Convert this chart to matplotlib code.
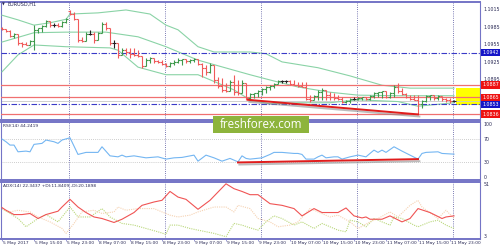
import numpy as np
import matplotlib.pyplot as plt
from matplotlib.collections import LineCollection
from matplotlib.patches import Rectangle
from matplotlib.transforms import blended_transform_factory as blend
import matplotlib.patheffects as pe

plt.rcParams['font.family'] = ['DejaVu Sans']

# EURUSD H1 bars, 5 May 07:00 -> 12 May 00:00
highs = [1.0986, 1.0982, 1.0981, 1.0976, 1.0967, 1.0960, 1.0960, 1.0964, 1.0989, 1.0984,
         1.0989, 1.0998, 1.0994, 1.0993, 1.0993, 1.0996, 1.1001, 1.1015, 1.1012, 1.0998,
         1.0969, 1.0977, 1.0981, 1.0977, 1.0977, 1.0994, 1.0994, 1.0984, 1.0964, 1.0958,
         1.0950, 1.0950, 1.0950, 1.0950, 1.0946, 1.0936, 1.0933, 1.0934, 1.0933, 1.0929,
         1.0929, 1.0924, 1.0926, 1.0929, 1.0933, 1.0931, 1.0931, 1.0931, 1.0933, 1.0931,
         1.0924, 1.0921, 1.0924, 1.0921, 1.0900, 1.0898, 1.0890, 1.0895, 1.0904, 1.0895,
         1.0895, 1.0890, 1.0873, 1.0873, 1.0878, 1.0881, 1.0885, 1.0886, 1.0890, 1.0895,
         1.0895, 1.0895, 1.0895, 1.0895, 1.0892, 1.0892, 1.0892, 1.0869, 1.0869, 1.0878,
         1.0881, 1.0878, 1.0874, 1.0873, 1.0869, 1.0866, 1.0861, 1.0864, 1.0866, 1.0866,
         1.0866, 1.0866, 1.0869, 1.0874, 1.0874, 1.0876, 1.0873, 1.0874, 1.0886, 1.0890,
         1.0881, 1.0873, 1.0869, 1.0869, 1.0869, 1.0861, 1.0869, 1.0869, 1.0869, 1.0869,
         1.0868, 1.0864, 1.0864, 1.0861]
lows = [1.0981, 1.0977, 1.0969, 1.0967, 1.0955, 1.0952, 1.0955, 1.0955, 1.0946, 1.0976,
        1.0977, 1.0986, 1.0986, 1.0986, 1.0986, 1.0986, 1.0993, 1.1006, 1.0998, 1.0960,
        1.0960, 1.0962, 1.0972, 1.0958, 1.0964, 1.0976, 1.0981, 1.0955, 1.0950, 1.0933,
        1.0938, 1.0938, 1.0933, 1.0936, 1.0934, 1.0916, 1.0919, 1.0924, 1.0924, 1.0924,
        1.0921, 1.0917, 1.0917, 1.0921, 1.0924, 1.0921, 1.0924, 1.0924, 1.0926, 1.0921,
        1.0900, 1.0904, 1.0907, 1.0890, 1.0881, 1.0874, 1.0874, 1.0876, 1.0869, 1.0869,
        1.0873, 1.0861, 1.0861, 1.0864, 1.0866, 1.0869, 1.0873, 1.0878, 1.0881, 1.0888,
        1.0890, 1.0890, 1.0886, 1.0886, 1.0883, 1.0883, 1.0861, 1.0857, 1.0861, 1.0861,
        1.0861, 1.0861, 1.0861, 1.0861, 1.0861, 1.0856, 1.0856, 1.0856, 1.0861, 1.0861,
        1.0861, 1.0861, 1.0861, 1.0864, 1.0866, 1.0864, 1.0864, 1.0864, 1.0866, 1.0873,
        1.0869, 1.0864, 1.0861, 1.0861, 1.0836, 1.0847, 1.0857, 1.0861, 1.0861, 1.0861,
        1.0859, 1.0857, 1.0856, 1.0857]
closes = [1.0982, 1.0979, 1.0970, 1.0974, 1.0958, 1.0957, 1.0955, 1.0962, 1.0981, 1.0984,
          1.0988, 1.0996, 1.0989, 1.0989, 1.0988, 1.0994, 1.0999, 1.1008, 1.0999, 1.0964,
          1.0962, 1.0974, 1.0974, 1.0964, 1.0976, 1.0991, 1.0984, 1.0958, 1.0958, 1.0938,
          1.0946, 1.0943, 1.0940, 1.0938, 1.0936, 1.0919, 1.0929, 1.0933, 1.0928, 1.0926,
          1.0922, 1.0919, 1.0924, 1.0926, 1.0929, 1.0931, 1.0928, 1.0929, 1.0931, 1.0922,
          1.0916, 1.0909, 1.0921, 1.0895, 1.0885, 1.0878, 1.0876, 1.0892, 1.0874, 1.0873,
          1.0890, 1.0864, 1.0871, 1.0873, 1.0876, 1.0880, 1.0883, 1.0885, 1.0888, 1.0893,
          1.0893, 1.0893, 1.0888, 1.0886, 1.0885, 1.0883, 1.0862, 1.0861, 1.0868, 1.0874,
          1.0878, 1.0869, 1.0866, 1.0864, 1.0862, 1.0857, 1.0859, 1.0862, 1.0862, 1.0864,
          1.0866, 1.0862, 1.0868, 1.0873, 1.0874, 1.0876, 1.0866, 1.0873, 1.0883, 1.0876,
          1.0871, 1.0866, 1.0862, 1.0861, 1.0854, 1.0859, 1.0868, 1.0869, 1.0864, 1.0868,
          1.0862, 1.0861, 1.0859, 1.0859]
first_open = 1.0984
gap_bar = 17          # Monday open gap
gap_open = 1.1013

# Bollinger bands (bar index, price)
bb_up_idx = [0, 4, 8, 12, 16, 17, 24, 31, 37, 41, 44, 49, 53, 62, 66, 70, 79, 87, 95, 102, 113]
bb_up = [1.1006, 1.0998, 1.0989, 1.0993, 1.0999, 1.1008, 1.1010, 1.1015, 1.1008, 1.0989,
         1.0981, 1.0952, 1.0943, 1.0943, 1.0940, 1.0926, 1.0916, 1.0902, 1.0886, 1.0881, 1.0881]
bb_mid_idx = [0, 8, 16, 26, 34, 41, 49, 62, 67, 74, 82, 89, 99, 113]
bb_mid = [1.0960, 1.0976, 1.0977, 1.0977, 1.0969, 1.0952, 1.0929, 1.0904, 1.0895, 1.0883,
          1.0874, 1.0869, 1.0868, 1.0868]
bb_low_idx = [0, 4, 8, 16, 27, 29, 34, 41, 49, 58, 62, 67, 74, 82, 89, 99, 104, 110, 113]
bb_low = [1.0909, 1.0938, 1.0955, 1.0952, 1.0950, 1.0946, 1.0917, 1.0904, 1.0904, 1.0878,
          1.0861, 1.0854, 1.0856, 1.0856, 1.0861, 1.0858, 1.0850, 1.0854, 1.0856]

# RSI(14)
rsi_idx = [0, 1, 2, 3, 4, 6, 7, 8, 10, 11, 13, 14, 15, 17, 19, 21, 24, 25, 27, 29, 30, 31, 33,
           36, 39, 41, 43, 45, 48, 49, 51, 53, 55, 57, 59, 60, 61, 62, 65, 67, 68, 70, 73, 74,
           75, 76, 78, 79, 80, 81, 83, 84, 85, 87, 89, 91, 92, 93, 94, 95, 96, 98, 100, 104,
           105, 106, 109, 110, 113]
rsi_val = [70.0, 65.4, 59.7, 59.7, 48.2, 49.4, 48.2, 60.9, 62.6, 68.3, 65.4, 62.6, 68.3, 72.2,
           43.7, 47.2, 47.2, 56.8, 41.3, 39.6, 42.5, 39.6, 41.3, 37.9, 39.6, 35.7, 37.9, 38.6,
           42.5, 32.2, 42.5, 37.9, 32.2, 36.9, 31.0, 41.3, 36.9, 35.7, 37.9, 43.7, 47.2, 47.2,
           45.4, 45.4, 43.7, 35.7, 35.7, 39.6, 42.5, 37.9, 39.6, 39.6, 35.7, 39.6, 42.5, 39.6,
           45.4, 51.1, 47.2, 51.1, 47.2, 56.8, 49.4, 35.7, 45.4, 47.2, 48.2, 45.4, 44.2]

# ADX(14) main, +DI, -DI
adx_idx = [0, 1, 3, 5, 7, 9, 11, 14, 15, 17, 19, 21, 23, 25, 28, 30, 33, 35, 38, 40, 42, 44,
           46, 49, 52, 56, 58, 60, 62, 64, 67, 70, 73, 75, 78, 80, 84, 86, 88, 90, 91, 92, 95,
           97, 100, 102, 104, 107, 110, 111, 113]
adx_val = [29.2, 27.0, 23.4, 23.4, 24.3, 20.1, 23.4, 26.2, 29.7, 36.1, 29.7, 25.1, 21.4, 20.1,
           16.8, 19.5, 25.1, 31.1, 33.9, 35.3, 42.7, 38.0, 36.1, 27.8, 35.3, 49.1, 45.0, 42.7,
           40.0, 40.0, 32.5, 31.1, 28.4, 22.3, 28.4, 25.1, 25.1, 28.9, 22.3, 20.6, 21.4, 19.5,
           19.5, 22.3, 17.3, 20.1, 28.4, 25.1, 20.1, 21.4, 22.3]
pdi_idx = [0, 2, 4, 6, 9, 11, 14, 15, 17, 19, 22, 25, 27, 30, 33, 36, 39, 41, 42, 44, 47, 49,
           53, 56, 58, 60, 62, 64, 66, 68, 70, 73, 75, 78, 80, 82, 84, 86, 87, 89, 91, 93, 95,
           97, 98, 100, 103, 104, 107, 109, 111, 113]
pdi_val = [28.4, 24.3, 20.1, 13.2, 20.1, 23.4, 17.3, 21.4, 29.7, 21.4, 21.4, 28.4, 21.4, 16.0,
           14.6, 11.8, 9.0, 6.9, 14.6, 14.6, 11.8, 10.4, 7.7, 4.9, 16.0, 14.6, 12.3, 10.4, 17.3,
           22.3, 20.1, 14.6, 17.3, 11.8, 16.0, 13.2, 10.4, 9.0, 18.7, 17.3, 13.2, 20.1, 17.3,
           14.6, 21.4, 20.1, 14.6, 13.2, 17.3, 18.7, 14.6, 11.8]
mdi_idx = [0, 2, 4, 7, 9, 12, 15, 16, 18, 20, 23, 25, 28, 29, 31, 34, 38, 40, 42, 44, 47, 49,
           53, 56, 58, 59, 62, 64, 67, 69, 72, 74, 77, 79, 82, 84, 87, 89, 92, 94, 97, 99, 102,
           104, 105, 109, 111, 113]
mdi_val = [28.4, 25.6, 27.0, 25.6, 21.4, 17.3, 11.8, 7.7, 16.0, 25.6, 27.0, 24.3, 25.6, 29.7,
           27.0, 28.4, 28.4, 25.6, 22.9, 21.4, 22.9, 25.6, 29.7, 29.7, 25.6, 31.1, 28.4, 20.1,
           17.3, 13.2, 14.6, 17.3, 28.4, 25.6, 21.4, 22.9, 17.3, 11.8, 17.3, 20.1, 25.6, 21.4,
           31.1, 35.3, 29.7, 20.1, 27.0, 20.2]

red_levels = [1.0887, 1.0865, 1.0836]
blue_levels = [1.0942, 1.0853]
zone_low, zone_high = 1.0852, 1.0882
price_ticks = [1.1015, 1.0985, 1.0955, 1.0925, 1.0895]
price_trend_x, price_trend_y = [61.5, 104], [1.0861, 1.0836]
rsi_trend_x, rsi_trend_y = [59, 104], [30.0, 35.7]
day_starts = [17, 41, 65, 89, 113]
time_labels = ['5 May 2017', '5 May 15:00', '5 May 23:00', '8 May 07:00', '8 May 15:00',
               '8 May 23:00', '9 May 07:00', '9 May 15:00', '9 May 23:00', '10 May 07:00',
               '10 May 15:00', '10 May 23:00', '11 May 07:00', '11 May 15:00', '11 May 23:00']
rsi_now = '44.2419'
adx_now = ('22.3437', '11.8409', '20.1898')

# colours
FRAME = '#7474c6'
SEP = '#50509c'
TXT = '#2a2a55'
UP = '#3f9a4c'
DOWN = '#f05a5a'
BAND = '#8ad3a6'

W, H = 500, 250
fig = plt.figure(figsize=(5, 2.5), dpi=100)


def px_axes(x0, y0, x1, y1):
    ax = fig.add_axes([x0 / W, 1 - y1 / H, (x1 - x0) / W, (y1 - y0) / H])
    ax.set_xlim(-0.25, 119.5)
    ax.set_xticks([])
    ax.set_yticks([])
    for s in ax.spines.values():
        s.set_color(FRAME)
        s.set_linewidth(0.8)
    ax.spines['top'].set_linewidth(1.4)
    ax.spines['bottom'].set_linewidth(1.4)
    for d in day_starts:
        ax.axvline(d - 0.3, color=SEP, lw=0.6, ls=(0, (1, 1.6)), zorder=1)
    return ax


ax_p = px_axes(1, 1.5, 480, 120)
ax_r = px_axes(1, 121.5, 480, 180)
ax_a = px_axes(1, 181.5, 480, 239)

# ---------------- price panel ----------------
ax_p.set_ylim(1.08264, 1.10295)
closes_a = np.array(closes)
opens = np.r_[first_open, closes_a[:-1]]
opens[gap_bar] = gap_open
hi = np.maximum(highs, np.maximum(opens, closes_a))
lo = np.minimum(lows, np.minimum(opens, closes_a))

segs, cols = [], []
for i in range(len(closes_a)):
    if closes_a[i] > opens[i] + 1e-9:
        c = UP
    elif closes_a[i] < opens[i] - 1e-9:
        c = DOWN
    else:
        c = '#222222'
    segs += [[(i, lo[i]), (i, hi[i])],
             [(i - 0.4, opens[i]), (i, opens[i])],
             [(i, closes_a[i]), (i + 0.4, closes_a[i])]]
    cols += [c, c, c]
ax_p.add_collection(LineCollection(segs, colors=cols, linewidths=0.8, zorder=4))

for xs, ys in [(bb_up_idx, bb_up), (bb_mid_idx, bb_mid), (bb_low_idx, bb_low)]:
    ax_p.plot(xs, ys, color=BAND, lw=0.8, zorder=3)

ax_p.add_patch(Rectangle((113.4, zone_low), 119.5 - 113.4, zone_high - zone_low,
                         facecolor='#ffff00', edgecolor='none', zorder=2))
ax_p.axhline(closes_a[-1], color='#c8c8c8', lw=0.6, zorder=2)
for lv in red_levels:
    ax_p.axhline(lv, color='#f07070', lw=0.9, zorder=3)
for lv in blue_levels:
    ax_p.axhline(lv, color='#3a3ac8', lw=0.8, ls=(0, (5, 1.5, 1, 1.5)), zorder=3)

ax_p.plot(price_trend_x, price_trend_y, color='#e01c1c', lw=1.4, zorder=5,
          path_effects=[pe.SimpleLineShadow(offset=(1, -1.5), shadow_color='#909090', alpha=0.6),
                        pe.Normal()])

tr_p = blend(ax_p.transAxes, ax_p.transData)
for t in price_ticks:
    ax_p.text(1.008, t, f'{t:.4f}', transform=tr_p, fontsize=3.4, color=TXT,
              va='center', ha='left', clip_on=False)
for lv, fc in [(1.0942, '#1515c8'), (1.0887, '#ee1111'), (1.0865, '#ee1111'),
               (1.0853, '#1515c8'), (1.0836, '#ee1111')]:
    ax_p.text(1.006, lv, f'{lv:.4f}', transform=tr_p, fontsize=3.4, color='white',
              va='center', ha='left', clip_on=False, zorder=10,
              bbox=dict(boxstyle='square,pad=0.3', facecolor=fc, edgecolor='none'))

fig.text(2 / W, 1 - 4.5 / H, '\u25bc', fontsize=2.6, color=TXT, va='center')
fig.text(8 / W, 1 - 4.5 / H, 'EURUSD,H1', fontsize=3.6, color=TXT, va='center')

# ---------------- RSI panel ----------------
ax_r.set_ylim(0, 100)
for lv in (70, 30):
    ax_r.axhline(lv, color='#bdbdbd', lw=0.6, ls=(0, (1, 1.5)), zorder=1)
ax_r.plot(rsi_idx, rsi_val, color='#74b6f2', lw=0.8, zorder=3)
ax_r.plot(rsi_trend_x, rsi_trend_y, color='#e01c1c', lw=1.4, zorder=4,
          path_effects=[pe.SimpleLineShadow(offset=(1, -1.5), shadow_color='#909090', alpha=0.6),
                        pe.Normal()])
tr_r = blend(ax_r.transAxes, ax_r.transData)
for lv, va in [(100, 'top'), (70, 'center'), (30, 'center'), (0, 'bottom')]:
    ax_r.text(1.008, lv, str(lv), transform=tr_r, fontsize=3.4, color=TXT,
              va=va, ha='left', clip_on=False)
ax_r.text(0.005, 0.93, f'RSI(14) {rsi_now}', transform=ax_r.transAxes, fontsize=3.2,
          color=TXT, va='center', ha='left')

# ---------------- ADX panel ----------------
ax_a.set_ylim(3, 51)
ax_a.plot(pdi_idx, pdi_val, color='#b9d77a', lw=0.8, ls=(0, (1, 1)), zorder=2)
ax_a.plot(mdi_idx, mdi_val, color='#f6d2b2', lw=0.8, ls=(0, (1, 1)), zorder=2)
ax_a.plot(adx_idx, adx_val, color='#f05454', lw=0.8, zorder=3)
tr_a = blend(ax_a.transAxes, ax_a.transData)
ax_a.text(1.008, 51, '51', transform=tr_a, fontsize=3.4, color=TXT, va='top', ha='left',
          clip_on=False)
ax_a.text(1.008, 3, '3', transform=tr_a, fontsize=3.4, color=TXT, va='bottom', ha='left',
          clip_on=False)
ax_a.text(0.005, 0.92, f'ADX(14) {adx_now[0]} +DI:{adx_now[1]} -DI:{adx_now[2]}',
          transform=ax_a.transAxes, fontsize=3.2, color=TXT, va='center', ha='left')

label_idx = np.arange(len(time_labels)) * 8
ax_a.set_xticks(label_idx)
ax_a.set_xticklabels([])
ax_a.tick_params(axis='x', length=1.5, width=0.5, color=FRAME, direction='out')
tr_x = blend(ax_a.transData, ax_a.transAxes)
for i, lab in zip(label_idx, time_labels):
    ax_a.text(i + 0.2, -0.04, lab, transform=tr_x, fontsize=3.2, color=TXT,
              ha='left', va='top', clip_on=False)

# watermark
fig.patches.append(Rectangle((213 / W, 1 - 133 / H), 96 / W, 17 / H, transform=fig.transFigure,
                             facecolor='#8db43c', edgecolor='none', zorder=20))
fig.text(261 / W, 1 - 124.5 / H, 'freshforex.com', fontsize=8.4, color='white',
         family=['Open Sans', 'DejaVu Sans'], ha='center', va='center', zorder=21)

fig.savefig('out.png', dpi=100, facecolor='white')
